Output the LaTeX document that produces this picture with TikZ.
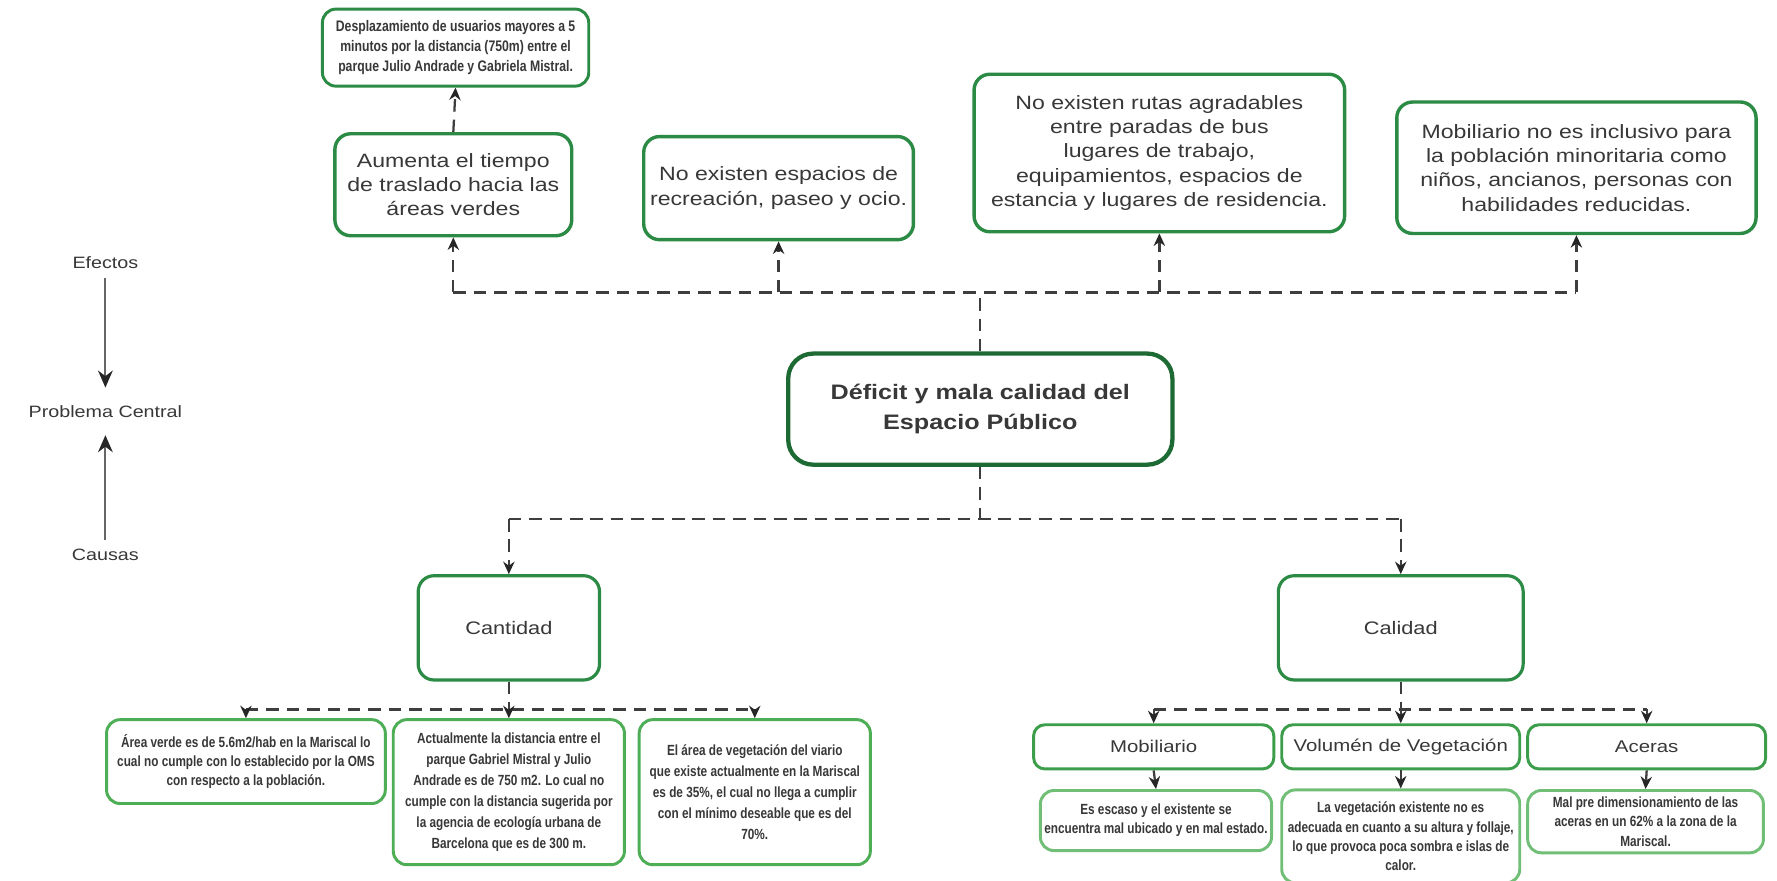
\documentclass[tikz,border=0pt]{standalone}
\usepackage{fontspec}
\setmainfont{Liberation Sans}[FakeStretch=1.2]
\newfontfamily\narrowfont{Liberation Sans}[FakeStretch=0.8]
\usetikzlibrary{arrows.meta}
\definecolor{gA}{HTML}{2B8A44}
\definecolor{gC}{HTML}{1D6A34}
\definecolor{gL}{HTML}{4DAE55}
\definecolor{gM}{HTML}{3C9E4A}
\definecolor{txt}{HTML}{383838}
\definecolor{lineg}{HTML}{3E3E3E}
\begin{document}
\begin{tikzpicture}[x=1pt,y=-1pt,
  box/.style={draw=gA, line width=3pt, rounded corners=14pt, fill=white, align=center, inner sep=0pt, text=txt},
  effbox/.style={box, font=\fontsize{17}{21.5}\selectfont},
  lowbox/.style={box, draw=gL, line width=2.6pt, rounded corners=12pt, font=\narrowfont\bfseries\fontsize{13}{17}\selectfont},
  headbox/.style={box, draw=gM, line width=2.6pt, rounded corners=10pt, font=\fontsize{15}{18}\selectfont},
  conn/.style={draw=lineg, line width=2pt, dash pattern=on 11pt off 7pt},
  arr/.style={conn, -{Stealth[length=11pt,width=10pt,color=black!85]}},
  leg/.style={text=txt, font=\fontsize{14.5}{17}\selectfont, inner sep=0pt},
  legarr/.style={draw=black!60, line width=1.6pt, -{Stealth[length=15pt,width=13pt,color=black!85]}}
]
\useasboundingbox[fill=white] (0,0) rectangle (1568,777);

% legend
\node[leg] (efe) at (93,232) {Efectos};
\node[leg] (pc) at (93,363) {Problema Central};
\node[leg] (cau) at (93,490) {Causas};
\draw[legarr] (efe.south) ++(0,8) coordinate (e1) (e1) -- (pc.north |- 0,342) coordinate (e2);
\draw[legarr] (cau.north) ++(0,-8) coordinate (c1) (c1) -- (pc.south |- 0,384) coordinate (c2);

% effects
\node[box, draw=gA, line width=2.6pt, rounded corners=12pt, minimum width=235pt, minimum height=68pt,
  font=\narrowfont\bfseries\fontsize{13.5}{18}\selectfont] (sm) at (402,42)
  {Desplazamiento de usuarios mayores a 5\\minutos por la distancia (750m) entre el\\parque Julio Andrade y Gabriela Mistral.};
\node[effbox, minimum width=209pt, minimum height=90pt] (aum) at (400,163)
  {Aumenta el tiempo\\de traslado hacia las\\áreas verdes};
\node[effbox, minimum width=238pt, minimum height=91pt] (rec) at (687,166)
  {No existen espacios de\\recreación, paseo y ocio.};
\node[effbox, minimum width=327pt, minimum height=139pt] (rut) at (1023,135)
  {No existen rutas agradables\\entre paradas de bus\\lugares de trabajo,\\equipamientos, espacios de\\estancia y lugares de residencia.};
\node[effbox, minimum width=317pt, minimum height=116pt] (inc) at (1391,148)
  {Mobiliario no es inclusivo para\\la población minoritaria como\\niños, ancianos, personas con\\habilidades reducidas.};

% central
\node[box, draw=gC, line width=3.8pt, rounded corners=22pt, minimum width=339pt, minimum height=98pt,
  font=\bfseries\fontsize{18.5}{26}\selectfont] (cen) at (865,361)
  {Déficit y mala calidad del\\Espacio Público};

% effects connectors
\coordinate (busE) at (865,258);
\draw[conn] (cen.north) -- (busE);
\draw[conn] (aum.south |- busE) -- (inc.south |- busE);
\draw[arr] (aum.south |- busE) -- (aum.south);
\draw[arr] (rec.south |- busE) -- (rec.south);
\draw[arr] (rut.south |- busE) -- (rut.south);
\draw[arr] (inc.south |- busE) -- (inc.south);
\draw[arr] (aum.north) -- (sm.south);

% causes level 1
\node[box, line width=2.8pt, minimum width=160pt, minimum height=92pt, font=\fontsize{16}{19}\selectfont] (cant) at (449,554) {Cantidad};
\node[box, line width=2.8pt, minimum width=216pt, minimum height=92pt, font=\fontsize{16}{19}\selectfont] (cal) at (1236,554) {Calidad};
\coordinate (busC) at (865,458);
\draw[conn] (cen.south) -- (busC);
\draw[conn] (cant.north |- busC) -- (cal.north |- busC);
\draw[arr] (cant.north |- busC) -- (cant.north);
\draw[arr] (cal.north |- busC) -- (cal.north);

% causes: cantidad
\node[lowbox, minimum width=246pt, minimum height=74pt] (av) at (217,672)
  {Área verde es de 5.6m2/hab en la Mariscal lo\\cual no cumple con lo establecido por la OMS\\con respecto a la población.};
\node[lowbox, minimum width=204pt, minimum height=128pt, font=\narrowfont\bfseries\fontsize{13}{18.6}\selectfont] (act) at (449,699)
  {Actualmente la distancia entre el\\parque Gabriel Mistral y Julio\\Andrade es de 750 m2. Lo cual no\\cumple con la distancia sugerida por\\la agencia de ecología urbana de\\Barcelona que es de 300 m.};
\node[lowbox, minimum width=204pt, minimum height=128pt, font=\narrowfont\bfseries\fontsize{13}{18.5}\selectfont] (ea) at (666,699)
  {El área de vegetación del viario\\que existe actualmente en la Mariscal\\es de 35\%, el cual no llega a cumplir\\con el mínimo deseable que es del\\70\%.};
\coordinate (busL) at (449,626);
\draw[conn] (cant.south) -- (busL);
\draw[conn] (av.north |- busL) -- (ea.north |- busL);
\draw[arr] (av.north |- busL) -- (av.north);
\draw[arr] (act.north |- busL) -- (act.north);
\draw[arr] (ea.north |- busL) -- (ea.north);

% causes: calidad
\node[headbox, minimum width=212pt, minimum height=39pt] (mobh) at (1018,659) {Mobiliario};
\node[headbox, minimum width=210pt, minimum height=39pt] (vegh) at (1236,659) {Volumén de Vegetación};
\node[headbox, minimum width=210pt, minimum height=39pt] (acrh) at (1453,659) {Aceras};
\coordinate (busR) at (1236,626);
\draw[conn] (cal.south) -- (busR);
\draw[conn] (mobh.north |- busR) -- (acrh.north |- busR);
\draw[arr] (mobh.north |- busR) -- (mobh.north);
\draw[arr] (vegh.north |- busR) -- (vegh.north);
\draw[arr] (acrh.north |- busR) -- (acrh.north);

\node[lowbox, draw=gL!80, minimum width=204pt, minimum height=53pt] (mobd) at (1020,724)
  {Es escaso y el existente se\\encuentra mal ubicado y en mal estado.};
\node[lowbox, draw=gL!80, minimum width=210pt, minimum height=82pt] (vegd) at (1236,738)
  {La vegetación existente no es\\adecuada en cuanto a su altura y follaje,\\lo que provoca poca sombra e islas de\\calor.};
\node[lowbox, draw=gL!80, minimum width=208pt, minimum height=55pt] (acrd) at (1452,725)
  {Mal pre dimensionamiento de las\\aceras en un 62\% a la zona de la\\Mariscal.};
\draw[arr, solid] (mobh.south) -- (mobd.north);
\draw[arr, solid] (vegh.south) -- (vegd.north);
\draw[arr, solid] (acrh.south) -- (acrd.north);
\end{tikzpicture}
\end{document}
